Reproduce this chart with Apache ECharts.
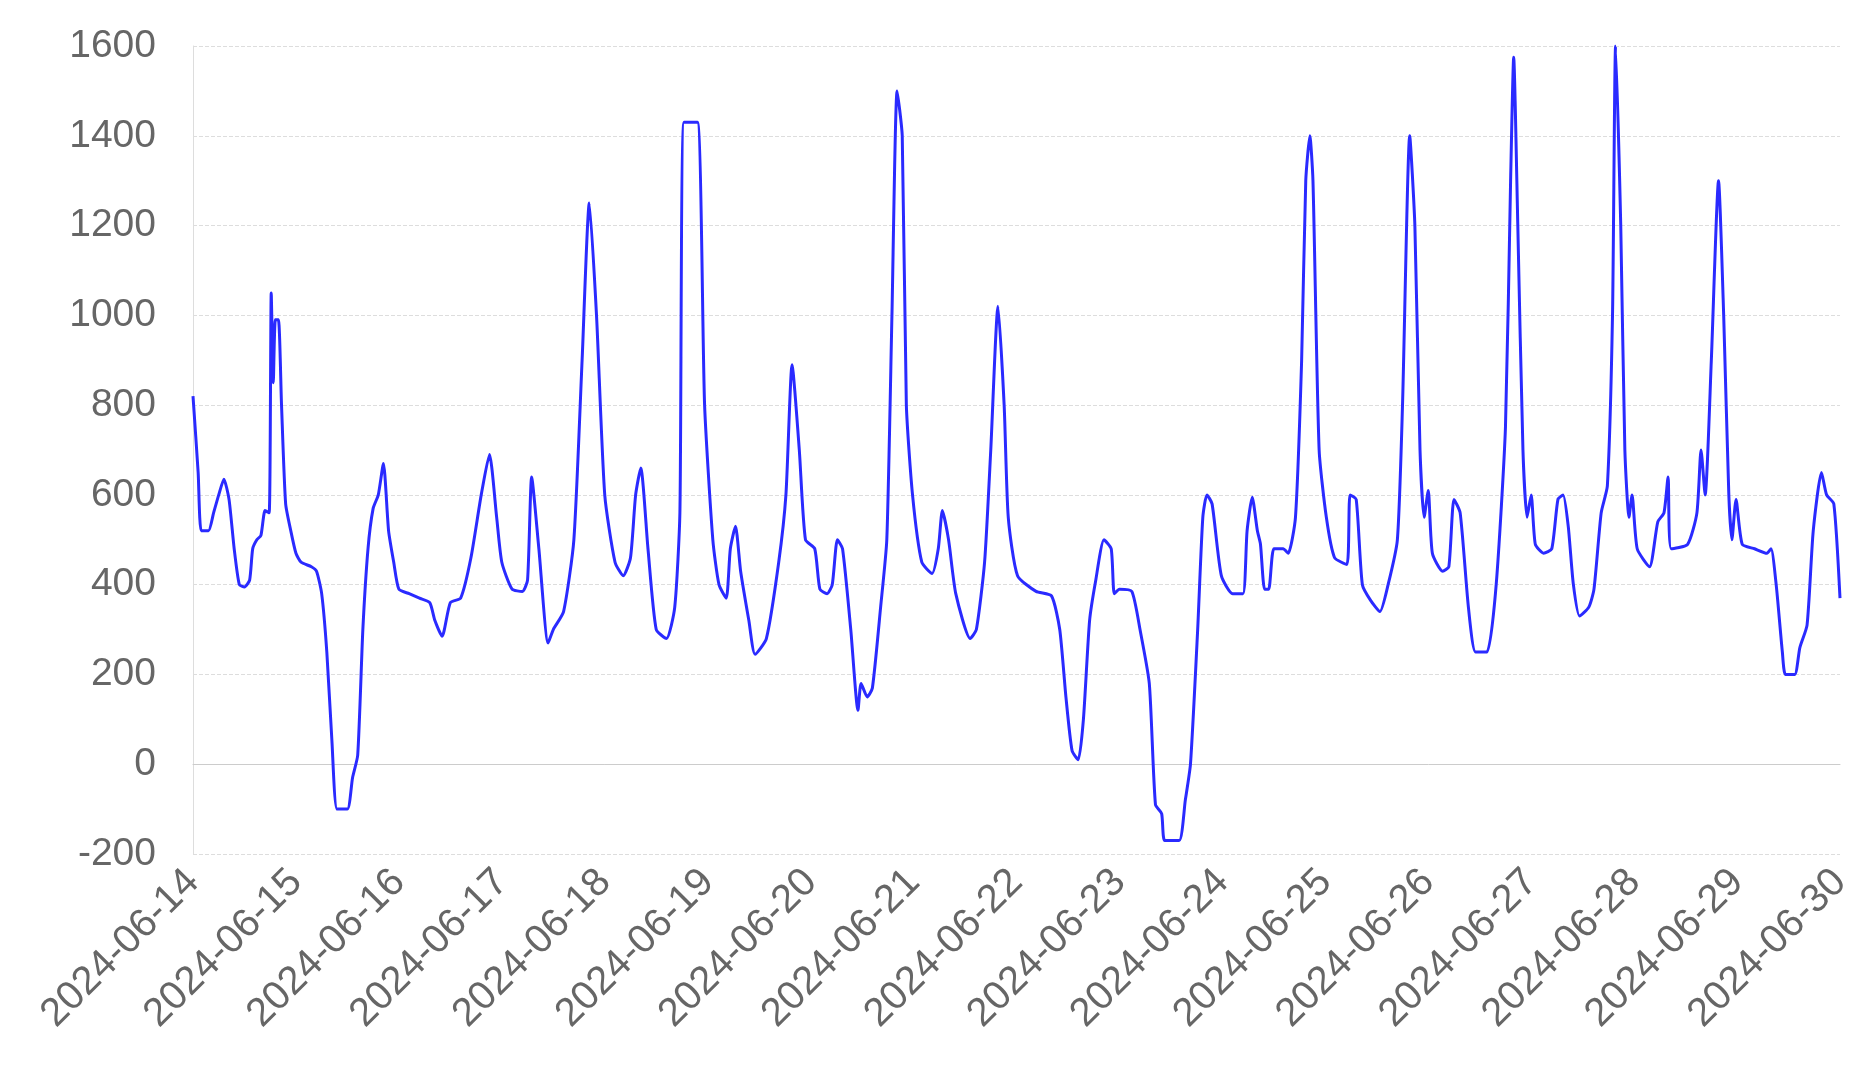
<!DOCTYPE html>
<html><head><meta charset="utf-8">
<script src="https://cdn.jsdelivr.net/npm/echarts@6/dist/echarts.min.js"></script>
<style>html,body{margin:0;padding:0;background:#fff}#c{width:1875px;height:1091px}</style>
</head><body><div id="c"></div>
<script>
// day offsets from 2024-06-14 00:00
const dayOffsets = [0,0.05,0.08,0.15,0.2,0.25,0.3,0.35,0.4,0.45,0.5,0.55,0.58,0.62,0.66,0.7,0.74,0.76,0.78,0.8,0.83,0.86,0.9,0.95,
1.0,1.05,1.15,1.2,1.25,1.3,1.35,1.4,1.5,1.55,1.6,1.65,1.7,1.75,1.8,1.85,1.9,1.95,2.0,
2.1,2.2,2.3,2.35,2.42,2.5,2.6,2.7,2.8,2.88,2.95,3.0,
3.1,3.2,3.25,3.29,3.36,3.45,3.5,3.6,3.7,3.78,3.85,3.92,4.0,
4.1,4.18,4.25,4.3,4.35,4.42,4.5,4.6,4.68,4.73,4.77,4.9,4.97,5.05,
5.11,5.18,5.22,5.27,5.32,5.4,5.46,5.57,5.69,5.76,5.82,5.89,5.95,6.04,6.09,
6.16,6.21,6.26,6.31,6.39,6.46,6.49,6.55,6.6,6.68,6.74,6.79,6.84,6.89,6.93,6.99,7.08,7.18,7.24,7.28,7.34,7.41,7.55,7.61,7.69,7.75,7.82,7.88,7.92,
8.01,8.19,8.34,8.42,8.48,8.54,8.6,8.65,8.71,8.77,8.85,8.92,8.95,9.0,9.12,9.2,9.29,9.35,9.41,9.44,9.58,9.64,9.69,9.76,9.81,9.85,9.9,9.99,
10.1,10.2,10.24,10.29,10.34,10.37,10.41,10.45,10.5,10.59,10.64,10.71,10.77,10.81,10.85,10.88,10.94,11.01,11.09,11.21,11.24,11.3,11.36,11.44,11.53,11.61,11.7,11.75,11.82,11.87,11.92,11.96,12.0,
12.04,12.14,12.2,12.25,12.31,12.39,12.46,12.57,12.66,12.75,12.8,12.83,12.87,12.92,12.96,13.0,13.04,13.12,13.2,13.26,13.31,13.36,13.41,13.47,13.56,13.61,13.68,13.74,13.79,13.82,13.87,13.91,13.95,13.98,
14.03,14.15,14.23,14.29,14.33,14.36,14.52,14.61,14.65,14.69,14.75,14.82,14.87,14.92,14.95,14.99,15.05,15.17,15.29,15.33,15.38,15.44,15.47,15.56,15.61,15.68,15.74,15.82,15.87,15.94,16.0];
const values = [820,650,520,520,560,600,635,590,480,400,395,410,480,500,510,565,560,1050,850,990,990,800,580,520,
470,450,440,430,380,250,50,-100,-100,-30,20,300,480,570,600,670,520,450,390,
380,370,360,320,285,360,370,460,600,690,550,450,
390,385,410,640,480,270,300,340,500,900,1250,1000,600,
450,420,460,600,660,480,300,280,350,560,1430,1430,800,500,
400,370,480,530,430,320,245,280,450,600,890,700,500,480,390,
380,400,500,480,300,120,180,150,170,350,500,1000,1500,1400,800,600,450,425,480,565,500,380,280,300,450,700,1020,800,550,
420,385,375,300,150,30,10,100,320,410,500,480,380,390,385,300,180,-90,-110,-170,-170,-80,0,300,550,600,580,420,
380,380,520,595,520,490,390,390,480,480,470,550,900,1300,1400,1300,700,550,460,445,600,590,400,365,340,400,500,800,1400,1200,700,550,610,
470,430,440,590,560,350,250,250,400,750,1300,1575,1200,700,550,600,490,470,480,590,600,530,400,330,350,390,560,620,1000,1600,1200,700,550,600,
480,440,540,560,640,480,490,560,700,600,900,1300,1000,600,500,590,490,480,470,480,400,250,200,200,260,310,520,650,600,580,370];
const yTicks = {min:-200, max:1600, interval:200};
const DAY = 86400000;
const startDate = Date.UTC(2024,5,14);
const endDate = Date.UTC(2024,5,30);
const data = dayOffsets.map((d,i)=>[startDate + d*DAY, values[i]]);
function fmt(v){const d=new Date(v);const p=n=>String(n).padStart(2,'0');return d.getUTCFullYear()+'-'+p(d.getUTCMonth()+1)+'-'+p(d.getUTCDate());}
const chart = echarts.init(document.getElementById('c'));
chart.setOption({
  animation:false,
  grid:{left:193,right:35,top:46,bottom:237},
  xAxis:{type:'value',min:startDate,max:endDate,interval:DAY,
    axisLine:{lineStyle:{color:'#ccc'}},axisTick:{show:false},splitLine:{show:false},
    axisLabel:{rotate:45,color:'#666',fontSize:40,fontFamily:'Arial, Liberation Sans',margin:22,hideOverlap:false,
      showMinLabel:true,showMaxLabel:true,formatter:fmt}},
  yAxis:{type:'value',min:yTicks.min,max:yTicks.max,interval:yTicks.interval,
    axisLine:{show:true,lineStyle:{color:'#ddd'}},axisTick:{show:false},
    splitLine:{lineStyle:{color:'#ddd',type:'dashed'}},
    axisLabel:{color:'#666',fontSize:39,fontFamily:'Arial, Liberation Sans',margin:37,formatter:v=>String(v)}},
  series:[{type:'line',data:data,showSymbol:false,smooth:0.2,lineStyle:{color:'#2a2aff',width:3}}]
});
</script></body></html>
